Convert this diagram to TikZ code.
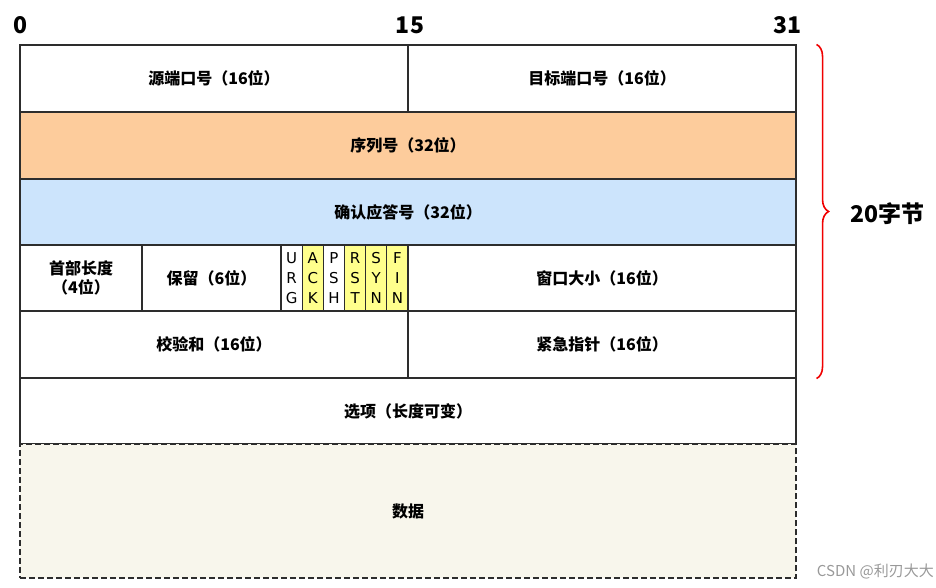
\documentclass[tikz,border=0pt]{standalone}
\usepackage{fontspec}
\setmainfont{Noto Sans CJK SC}
\newfontfamily\flagfont{DejaVu Sans}
\usepackage{tikz}
\usetikzlibrary{positioning,calc,decorations.pathreplacing}

\definecolor{seqorange}{RGB}{253,204,156}
\definecolor{ackblue}{RGB}{204,228,252}
\definecolor{flagyellow}{RGB}{255,255,140}
\definecolor{databeige}{RGB}{248,246,236}
\definecolor{bracered}{RGB}{240,0,0}
\definecolor{edgegray}{RGB}{45,45,45}

\tikzset{
  field/.style={draw=edgegray, line width=1.1pt, inner sep=0pt, align=center,
    font=\bfseries\fontsize{16}{19}\selectfont},
  flagbox/.style={field, minimum width=21.17pt, minimum height=66pt,
    font=\flagfont\fontsize{15}{20}\selectfont},
  bitnum/.style={font=\bfseries\fontsize{23}{23}\selectfont},
}

\begin{document}
\begin{tikzpicture}[x=1pt,y=-1pt]
  \useasboundingbox (0,0) rectangle (936,588);

  % bit positions
  \node[bitnum] (bit0)  at (21,25)  {0};
  \node[bitnum] (bit15) at (410,25) {15};
  \node[bitnum] (bit31) at (787,25) {31};

  % first row
  \node[field, minimum width=388pt, minimum height=67pt] (srcport) at (214,78.5) {源端口号（16位）};
  \node[field, minimum width=388pt, minimum height=67pt] (dstport) at (602,78.5) {目标端口号（16位）};

  % sequence and ack
  \node[field, fill=seqorange, minimum width=776pt, minimum height=67pt] (seqnum) at (408,145.5) {序列号（32位）};
  \node[field, fill=ackblue, minimum width=776pt, minimum height=66pt] (acknum) at (408,212) {确认应答号（32位）};

  % header length, reserved, flags, window
  \node[field, minimum width=122pt, minimum height=66pt] (hdrlen) at (81,278) {首部长度\\（4位）};
  \node[field, minimum width=139pt, minimum height=66pt] (reserved) at (211.5,278) {保留（6位）};
  \node[flagbox] (urg) at (291.6,278) {U\\R\\G};
  \node[flagbox, fill=flagyellow] (ack) at (312.75,278) {A\\C\\K};
  \node[flagbox] (psh) at (333.9,278) {P\\S\\H};
  \node[flagbox, fill=flagyellow] (rst) at (355.1,278) {R\\S\\T};
  \node[flagbox, fill=flagyellow] (syn) at (376.25,278) {S\\Y\\N};
  \node[flagbox, fill=flagyellow] (fin) at (397.4,278) {F\\I\\N};
  \node[field, minimum width=388pt, minimum height=66pt] (window) at (602,278) {窗口大小（16位）};

  % checksum and urgent pointer
  \node[field, minimum width=388pt, minimum height=67pt] (checksum) at (214,344.5) {校验和（16位）};
  \node[field, minimum width=388pt, minimum height=67pt] (urgptr) at (602,344.5) {紧急指针（16位）};

  % options and data
  \node[field, minimum width=776pt, minimum height=66pt] (options) at (408,411) {选项（长度可变）};
  \node[field, dashed, dash pattern=on 6pt off 3pt, fill=databeige, minimum width=776pt, minimum height=134pt] (payload) at (408,511) {数据};

  % 20 bytes brace
  \draw[bracered, line width=1.6pt, decorate, decoration={brace, amplitude=12pt}]
    ($(dstport.north east)+(20,0)$) -- ($(urgptr.south east)+(20,0)$)
    coordinate[pos=0.5] (bracemid);
  \node[font=\bfseries\fontsize{23}{23}\selectfont, anchor=west] (hdrsize) at ($(bracemid)+(30,2)$) {20字节};

  \node[text=black!40, font=\fontsize{15}{15}\selectfont, anchor=east, inner sep=1pt] (mark) at (935,571) {CSDN @利刃大大};
\end{tikzpicture}
\end{document}
